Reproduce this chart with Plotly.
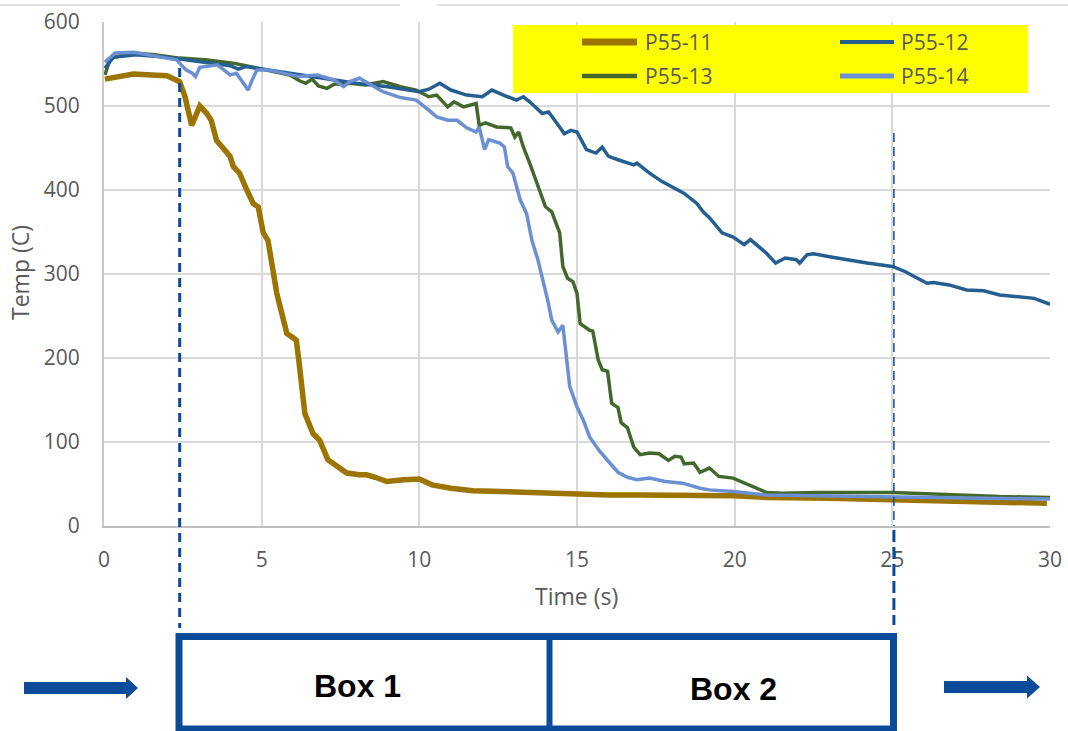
import plotly.graph_objects as go

# ---------------- data ----------------
t_p11 = [0.03, 0.5, 0.93, 1.5, 2.0, 2.4, 2.57, 2.78, 2.94, 3.04, 3.26, 3.4, 3.57, 3.78, 4.0, 4.1, 4.3,
         4.53, 4.73, 4.89, 5.05, 5.2, 5.35, 5.48, 5.64, 5.8, 6.0, 6.1, 6.2, 6.37, 6.63, 6.84, 7.1, 7.4,
         7.7, 8.1, 8.33, 8.6, 8.97, 9.5, 10.0, 10.4, 11.0, 11.7, 12.5, 13.3, 14.1, 15, 16, 17, 18, 18.9,
         20, 21, 22, 23, 24, 25, 26, 27, 28, 29, 29.9]
T_p11 = [532, 536, 538, 537, 536, 529, 511, 477, 489, 500, 491, 483, 459, 450, 440, 428, 420,
         400, 384, 380, 349, 340, 305, 277, 253, 229, 224, 221, 190, 134, 110, 102, 79, 70,
         63, 61, 61, 58, 53, 55, 56, 49, 45, 42, 41, 40, 38, 37, 37, 37, 37, 37,
         36, 34, 34, 33, 32, 31, 30, 29, 28, 27, 27]

t_p12 = [0.03, 0.3, 1.0, 2.0, 3.0, 4.0, 4.26, 4.5, 5.0, 6.0, 7.0, 8.0, 9.0, 9.4, 10.0, 10.3, 10.65,
         11.0, 11.5, 12.0, 12.3, 12.8, 13.08, 13.3, 13.5, 13.9, 14.1, 14.35, 14.6, 14.8, 15.0, 15.3,
         15.6, 15.8, 16.0, 16.3, 16.8, 16.9, 17.3, 17.7, 18.0, 18.4, 18.8, 19.0, 19.2, 19.6, 19.95,
         20.3, 20.5, 20.8, 21.0, 21.3, 21.6, 21.96, 22.06, 22.3, 22.5, 23.1, 24.2, 25.0, 25.4, 25.8,
         26.1, 26.3, 26.8, 27.35, 27.9, 28.4, 29.5, 30.0]
T_p12 = [545, 558, 561, 558, 553, 548, 544, 547, 544, 538, 532, 527, 523, 521, 517, 520, 527,
         519, 513, 511, 519, 511, 507, 511, 505, 491, 493, 480, 467, 471, 469, 448,
         444, 451, 440, 436, 430, 432, 420, 410, 404, 396, 384, 374, 367, 349, 344,
         335, 341, 331, 325, 313, 319, 317, 313, 323, 324, 320, 313, 309, 303, 295,
         289, 290, 287, 281, 280, 275, 271, 264]

t_p13 = [0.03, 0.2, 0.93, 1.6, 2.4, 3.2, 4.1, 5.2, 5.9, 6.2, 6.4, 6.6, 6.8, 7.07, 7.3, 7.8, 8.3,
         8.85, 9.4, 9.9, 10.3, 10.55, 10.9, 11.1, 11.4, 11.8, 11.9, 12.1, 12.45, 12.9, 13.03, 13.15,
         13.3, 13.5, 13.7, 14.0, 14.2, 14.45, 14.55, 14.7, 14.87, 15.0, 15.1, 15.4, 15.5, 15.67,
         15.8, 15.97, 16.1, 16.3, 16.4, 16.6, 16.8, 17.0, 17.3, 17.6, 17.9, 18.1, 18.3, 18.4, 18.7,
         18.9, 19.2, 19.5, 19.95, 20.3, 21.0, 21.5, 22.6, 25.0, 28.4, 30.0]
T_p13 = [537, 557, 563, 561, 557, 555, 551, 543, 537, 530, 527, 532, 524, 521, 526, 527, 525,
         529, 523, 519, 511, 513, 499, 505, 499, 503, 477, 480, 475, 474, 463, 469,
         451, 432, 412, 380, 374, 349, 309, 295, 291, 277, 241, 233, 232, 198,
         186, 184, 146, 141, 123, 117, 94, 85, 87, 86, 78, 83, 82, 74, 75,
         64, 69, 59, 57, 51, 40, 39, 40, 40, 35, 34]

t_p14 = [0.03, 0.35, 0.93, 1.8, 2.3, 2.6, 2.8, 2.9, 3.04, 3.6, 4.0, 4.2, 4.4, 4.57, 4.7, 4.85, 5.2,
         5.7, 6.2, 6.75, 7.3, 7.6, 7.8, 8.1, 8.5, 8.85, 9.4, 9.9, 10.3, 10.55, 10.9, 11.2, 11.5,
         11.8, 11.9, 12.0, 12.07, 12.2, 12.55, 12.7, 12.8, 12.97, 13.2, 13.4, 13.57, 13.76, 13.9,
         14.07, 14.2, 14.4, 14.55, 14.67, 14.77, 15.0, 15.2, 15.4, 15.7, 16.04, 16.3, 16.6, 16.9,
         17.3, 17.8, 18.35, 18.9, 19.2, 19.95, 21.0, 25.0, 30.0]
T_p14 = [552, 563, 564, 558, 555, 543, 539, 535, 546, 549, 537, 539, 529, 519, 531, 543, 543,
         539, 535, 537, 531, 523, 529, 533, 525, 517, 510, 507, 495, 487, 483, 483, 474,
         469, 475, 460, 448, 460, 456, 451, 428, 420, 388, 372, 340, 317, 297,
         269, 245, 231, 239, 201, 166, 142, 126, 106, 90, 75, 64, 58, 55,
         57, 53, 51, 45, 43, 41, 37, 35, 32]

series_names = ["P55-11", "P55-12", "P55-13", "P55-14"]
x_ticks = [0, 5, 10, 15, 20, 25, 30]
y_ticks = [0, 100, 200, 300, 400, 500, 600]
box_labels = ["Box 1", "Box 2"]
box1_start_t = 2.4    # first dashed marker (s)
box2_end_t = 25.05    # second dashed marker (s)

# ---------------- styling ----------------
C11, C12, C13, C14 = "#9c7400", "#255e91", "#43682b", "#6a8fd2"
NAVY = "#0b4c9a"
GRAY_TXT = "#595959"
FONT = "Open Sans"

W, H = 1068, 731
L, R, T, B = 104, 1050, 22, 526   # plot area in pixels


def PX(x):
    return (x - L) / (R - L)


def PY(y):
    return (B - y) / (B - T)


fig = go.Figure()
for name, tx, ty, col, wd in [
    (series_names[0], t_p11, T_p11, C11, 5.5),
    (series_names[2], t_p13, T_p13, C13, 3.5),
    (series_names[1], t_p12, T_p12, C12, 3.5),
    (series_names[3], t_p14, T_p14, C14, 3.5),
]:
    fig.add_trace(go.Scatter(x=tx, y=ty, mode="lines", name=name,
                             line=dict(color=col, width=wd, shape="linear"),
                             showlegend=False, cliponaxis=False))

shapes = []
annotations = []

# faint top border line of the slide
shapes.append(dict(type="line", xref="paper", yref="paper", x0=PX(0), x1=PX(400),
                   y0=PY(5), y1=PY(5), line=dict(color="#d9d9d9", width=1.5)))
shapes.append(dict(type="line", xref="paper", yref="paper", x0=PX(437), x1=PX(1068),
                   y0=PY(5), y1=PY(5), line=dict(color="#d9d9d9", width=1.5)))

# legend (yellow box)
shapes.append(dict(type="rect", xref="paper", yref="paper", x0=PX(513), x1=PX(1028),
                   y0=PY(93), y1=PY(25), fillcolor="#ffff00", line=dict(width=0), layer="above"))
leg = [(series_names[0], C11, 7, 582, 637, 42, 643),
       (series_names[1], C12, 4, 840, 894, 42, 899),
       (series_names[2], C13, 4.5, 582, 637, 76, 643),
       (series_names[3], C14, 5, 840, 894, 76, 899)]
for nm, col, wd, xa, xb, yy, xt in leg:
    shapes.append(dict(type="line", xref="paper", yref="paper", x0=PX(xa), x1=PX(xb),
                       y0=PY(yy), y1=PY(yy), line=dict(color=col, width=wd), layer="above"))
    annotations.append(dict(text=nm, xref="paper", yref="paper", x=PX(xt), y=PY(yy),
                            xanchor="left", yanchor="middle", showarrow=False,
                            font=dict(family=FONT, size=21, color=GRAY_TXT)))

# dashed marker lines
shapes.append(dict(type="line", xref="x", yref="paper", x0=box1_start_t, x1=box1_start_t,
                   y0=PY(68), y1=PY(628), line=dict(color=NAVY, width=3, dash="9px,6px"),
                   layer="above"))
shapes.append(dict(type="line", xref="x", yref="paper", x0=box2_end_t, x1=box2_end_t,
                   y0=PY(133), y1=PY(526), line=dict(color=NAVY, width=1.5, dash="9px,5px"),
                   layer="above"))
shapes.append(dict(type="line", xref="x", yref="paper", x0=box2_end_t, x1=box2_end_t,
                   y0=PY(530), y1=PY(625), line=dict(color=NAVY, width=3, dash="12px,5px"),
                   layer="above"))

# boxes below the chart
shapes.append(dict(type="rect", xref="paper", yref="paper", x0=PX(179), x1=PX(893.5),
                   y0=PY(729), y1=PY(636.5), line=dict(color=NAVY, width=7)))
shapes.append(dict(type="line", xref="paper", yref="paper", x0=PX(549.5), x1=PX(549.5),
                   y0=PY(729), y1=PY(636.5), line=dict(color=NAVY, width=6)))


def arrow(x0, xs, xt, yc, hs, hh):
    pts = [(x0, yc - hs), (xs, yc - hs), (xs, yc - hh), (xt, yc), (xs, yc + hh),
           (xs, yc + hs), (x0, yc + hs)]
    return "M " + " L ".join(f"{PX(a):.5f},{PY(b):.5f}" for a, b in pts) + " Z"


shapes.append(dict(type="path", xref="paper", yref="paper", path=arrow(24, 126, 138, 688, 6, 11),
                   fillcolor=NAVY, line=dict(width=0)))
shapes.append(dict(type="path", xref="paper", yref="paper", path=arrow(944, 1027, 1040, 687, 6, 11.5),
                   fillcolor=NAVY, line=dict(width=0)))

annotations.append(dict(text=box_labels[0], xref="paper", yref="paper", x=PX(357), y=PY(686),
                        showarrow=False, xanchor="center", yanchor="middle",
                        font=dict(family="Liberation Sans", size=32, color="#000000", weight="bold")))
annotations.append(dict(text=box_labels[1], xref="paper", yref="paper", x=PX(733), y=PY(689),
                        showarrow=False, xanchor="center", yanchor="middle",
                        font=dict(family="Liberation Sans", size=32, color="#000000", weight="bold")))

# axis titles
annotations.append(dict(text="Time (s)", xref="paper", yref="paper", x=PX(576), y=PY(596),
                        showarrow=False, xanchor="center", yanchor="middle",
                        font=dict(family=FONT, size=23, color=GRAY_TXT)))
annotations.append(dict(text="Temp (C)", xref="paper", yref="paper", x=PX(20), y=PY(273),
                        showarrow=False, xanchor="center", yanchor="middle", textangle=-90,
                        font=dict(family=FONT, size=23, color=GRAY_TXT)))

fig.update_layout(
    width=W, height=H,
    margin=dict(l=L, r=W - R, t=T, b=H - B, pad=0, autoexpand=False),
    paper_bgcolor="white", plot_bgcolor="white",
    shapes=shapes, annotations=annotations,
    showlegend=False,
    xaxis=dict(range=[0, 30], tickvals=x_ticks, ticktext=[str(v) for v in x_ticks],
               showgrid=True, gridcolor="#d9d9d9", gridwidth=1.5, zeroline=False,
               showline=True, linecolor="#bfbfbf", linewidth=2, ticks="",
               ticklabelstandoff=14, automargin=False,
               tickfont=dict(family=FONT, size=21, color=GRAY_TXT)),
    yaxis=dict(range=[0, 600], tickvals=y_ticks, ticktext=[str(v) for v in y_ticks],
               showgrid=True, gridcolor="#d9d9d9", gridwidth=1.5, zeroline=False,
               showline=True, linecolor="#c8c8c8", linewidth=2, ticks="",
               ticklabelstandoff=18, automargin=False,
               tickfont=dict(family=FONT, size=21, color=GRAY_TXT)),
)

fig.write_html("out.html")
